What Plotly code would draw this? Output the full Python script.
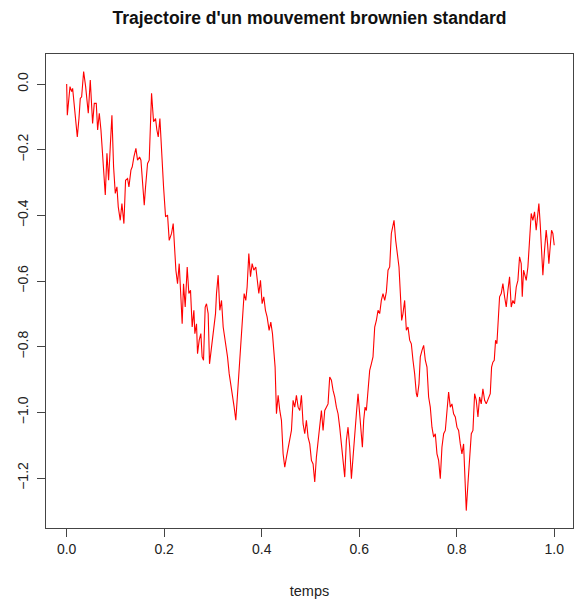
import plotly.graph_objects as go

# Brownian path sampled along [0, 1]
temps = [
    0.0, 0.0013, 0.0068, 0.0102, 0.0122, 0.0184, 0.0218, 0.0252, 0.0279, 0.0307,
    0.0348, 0.0389, 0.0423, 0.0443, 0.0484, 0.0512, 0.0532, 0.0566, 0.0607, 0.0635,
    0.0669, 0.0703, 0.0730, 0.0771, 0.0792, 0.0826, 0.0860, 0.0894, 0.0928, 0.0962,
    0.0997, 0.1031, 0.1058, 0.1099, 0.1133, 0.1174, 0.1208, 0.1249, 0.1277, 0.1318,
    0.1345, 0.1379, 0.1420, 0.1454, 0.1495, 0.1523, 0.1550, 0.1591, 0.1618, 0.1659,
    0.1693, 0.1741, 0.1782, 0.1823, 0.1850, 0.1878, 0.1912, 0.1946, 0.1987, 0.2028,
    0.2069, 0.2103, 0.2151, 0.2185, 0.2219, 0.2240, 0.2274, 0.2308, 0.2342, 0.2369,
    0.2397, 0.2431, 0.2472, 0.2506, 0.2540, 0.2574, 0.2609, 0.2629, 0.2663, 0.2684,
    0.2718, 0.2752, 0.2779, 0.2807, 0.2841, 0.2868, 0.2902, 0.2930, 0.2971, 0.3018,
    0.3053, 0.3073, 0.3107, 0.3141, 0.3176, 0.3210, 0.3264, 0.3299, 0.3333, 0.3367,
    0.3401, 0.3435, 0.3469, 0.3497, 0.3537, 0.3572, 0.3606, 0.3640, 0.3674, 0.3701,
    0.3736, 0.3770, 0.3804, 0.3838, 0.3879, 0.3906, 0.3941, 0.3975, 0.4009, 0.4043,
    0.4077, 0.4111, 0.4152, 0.4187, 0.4221, 0.4248, 0.4275, 0.4303, 0.4337, 0.4371,
    0.4405, 0.4439, 0.4473, 0.4508, 0.4542, 0.4576, 0.4610, 0.4644, 0.4678, 0.4712,
    0.4747, 0.4781, 0.4815, 0.4849, 0.4883, 0.4917, 0.4951, 0.4986, 0.5020, 0.5054,
    0.5088, 0.5122, 0.5156, 0.5191, 0.5225, 0.5259, 0.5293, 0.5327, 0.5361, 0.5395,
    0.5430, 0.5464, 0.5498, 0.5532, 0.5566, 0.5600, 0.5635, 0.5669, 0.5703, 0.5737,
    0.5771, 0.5805, 0.5840, 0.5874, 0.5908, 0.5942, 0.5976, 0.6010, 0.6045, 0.6065,
    0.6092, 0.6120, 0.6147, 0.6181, 0.6215, 0.6249, 0.6283, 0.6318, 0.6352, 0.6386,
    0.6420, 0.6454, 0.6488, 0.6523, 0.6557, 0.6591, 0.6625, 0.6659, 0.6693, 0.6714,
    0.6748, 0.6782, 0.6816, 0.6844, 0.6871, 0.6898, 0.6932, 0.6967, 0.7001, 0.7035,
    0.7069, 0.7103, 0.7137, 0.7172, 0.7192, 0.7226, 0.7253, 0.7288, 0.7322, 0.7356,
    0.7390, 0.7424, 0.7458, 0.7492, 0.7527, 0.7561, 0.7595, 0.7629, 0.7663, 0.7697,
    0.7732, 0.7766, 0.7800, 0.7834, 0.7868, 0.7902, 0.7936, 0.7971, 0.8005, 0.8039,
    0.8073, 0.8107, 0.8141, 0.8169, 0.8196, 0.8230, 0.8264, 0.8299, 0.8333, 0.8367,
    0.8401, 0.8435, 0.8469, 0.8503, 0.8537, 0.8572, 0.8606, 0.8640, 0.8688, 0.8715,
    0.8742, 0.8770, 0.8797, 0.8824, 0.8852, 0.8879, 0.8913, 0.8947, 0.8982, 0.9016,
    0.9050, 0.9084, 0.9118, 0.9152, 0.9186, 0.9221, 0.9255, 0.9289, 0.9323, 0.9344,
    0.9371, 0.9398, 0.9426, 0.9460, 0.9494, 0.9528, 0.9562, 0.9596, 0.9630, 0.9651,
    0.9685, 0.9712, 0.9740, 0.9767, 0.9801, 0.9835, 0.9863, 0.9890, 0.9917, 0.9945,
    0.9972, 1.0,
]

trajectoire = [
    0.0, -0.095, -0.008, -0.023, -0.013, -0.110, -0.161, -0.105, -0.044, -0.039,
    0.038, -0.008, -0.069, -0.089, 0.012, -0.059, -0.120, -0.059, -0.059, -0.140,
    -0.089, -0.140, -0.211, -0.303, -0.338, -0.211, -0.293, -0.191, -0.095, -0.252,
    -0.333, -0.313, -0.374, -0.415, -0.364, -0.425, -0.293, -0.288, -0.313, -0.262,
    -0.252, -0.222, -0.196, -0.232, -0.222, -0.232, -0.293, -0.369, -0.313, -0.242,
    -0.232, -0.028, -0.115, -0.105, -0.140, -0.161, -0.105, -0.211, -0.313, -0.404,
    -0.399, -0.476, -0.455, -0.425, -0.532, -0.567, -0.608, -0.547, -0.648, -0.730,
    -0.608, -0.679, -0.557, -0.638, -0.628, -0.740, -0.689, -0.760, -0.730, -0.821,
    -0.780, -0.760, -0.831, -0.841, -0.679, -0.669, -0.699, -0.852, -0.801, -0.750,
    -0.699, -0.638, -0.582, -0.689, -0.659, -0.740, -0.791, -0.831, -0.882, -0.913,
    -0.943, -0.984, -1.024, -0.963, -0.882, -0.791, -0.699, -0.638, -0.659, -0.618,
    -0.516, -0.587, -0.547, -0.567, -0.557, -0.598, -0.638, -0.598, -0.669, -0.648,
    -0.689, -0.709, -0.750, -0.725, -0.760, -0.811, -0.862, -1.004, -0.948, -0.994,
    -1.024, -1.126, -1.167, -1.136, -1.106, -1.075, -1.055, -0.963, -0.984, -0.948,
    -0.984, -0.994, -0.948, -1.035, -1.065, -1.024, -1.075, -1.096, -1.146, -1.157,
    -1.212, -1.136, -1.085, -1.045, -0.994, -1.055, -0.994, -0.984, -0.974, -0.892,
    -0.902, -0.933, -0.953, -0.984, -1.004, -1.045, -1.096, -1.167, -1.197, -1.085,
    -1.045, -1.106, -1.202, -1.136, -1.055, -1.004, -0.943, -1.004, -1.075, -1.106,
    -1.024, -0.984, -0.994, -0.933, -0.872, -0.852, -0.831, -0.740, -0.720, -0.689,
    -0.699, -0.659, -0.638, -0.659, -0.633, -0.567, -0.557, -0.455, -0.435, -0.415,
    -0.476, -0.526, -0.557, -0.638, -0.720, -0.699, -0.659, -0.750, -0.740, -0.780,
    -0.791, -0.841, -0.882, -0.943, -0.953, -0.913, -0.831, -0.811, -0.796, -0.841,
    -0.862, -0.953, -0.984, -1.045, -1.075, -1.065, -1.126, -1.146, -1.202, -1.106,
    -1.065, -1.055, -1.004, -0.938, -0.984, -0.974, -1.004, -1.014, -1.045, -1.055,
    -1.096, -1.126, -1.096, -1.228, -1.299, -1.217, -1.126, -1.065, -1.055, -0.943,
    -0.963, -1.014, -0.953, -0.974, -0.928, -0.963, -0.974, -0.963, -0.943, -0.862,
    -0.847, -0.841, -0.780, -0.791, -0.699, -0.648, -0.638, -0.608, -0.648, -0.679,
    -0.628, -0.587, -0.679, -0.659, -0.669, -0.618, -0.598, -0.526, -0.547, -0.648,
    -0.567, -0.587, -0.598, -0.557, -0.455, -0.394, -0.415, -0.389, -0.445, -0.404,
    -0.364, -0.425, -0.496, -0.582, -0.506, -0.445, -0.486, -0.547, -0.496, -0.445,
    -0.455, -0.491,
]

x_ticks = [0.0, 0.2, 0.4, 0.6, 0.8, 1.0]
y_ticks = [0.0, -0.2, -0.4, -0.6, -0.8, -1.0, -1.2]

font_family = "Liberation Sans, Arial, Helvetica, sans-serif"
axis_color = "#444444"
text_color = "#222222"

fig = go.Figure(
    go.Scatter(
        x=temps,
        y=trajectoire,
        mode="lines",
        line=dict(color="#ff0000", width=1.1),
        hoverinfo="skip",
    )
)

fig.update_layout(
    width=574,
    height=599,
    margin=dict(l=46, r=1, t=54, b=71),
    paper_bgcolor="white",
    plot_bgcolor="white",
    showlegend=False,
    font=dict(family=font_family, size=14, color=text_color),
    title=dict(
        text="<b>Trajectoire d'un mouvement brownien standard</b>",
        x=0.5,
        xref="paper",
        xanchor="center",
        y=1 - 18 / 599,
        yref="container",
        yanchor="middle",
        font=dict(family=font_family, size=17.5, color="#111111"),
    ),
)

fig.update_xaxes(
    range=[-0.0424, 1.0385],
    tickvals=x_ticks,
    ticktext=[f"{v:.1f}" for v in x_ticks],
    ticks="outside",
    ticklen=8,
    tickwidth=1,
    tickcolor=axis_color,
    showline=True,
    linecolor=axis_color,
    linewidth=1,
    mirror=True,
    showgrid=False,
    zeroline=False,
    tickfont=dict(size=14),
    title=dict(text="temps", standoff=31, font=dict(size=14.5, color=text_color)),
)

fig.update_yaxes(
    range=[-1.352, 0.0915],
    tickvals=y_ticks,
    ticktext=[f"{v:.1f}".replace("-", "\u2212") for v in y_ticks],
    tickangle=-90,
    ticks="outside",
    ticklen=8,
    tickwidth=1,
    tickcolor=axis_color,
    ticklabelstandoff=3,
    showline=True,
    linecolor=axis_color,
    linewidth=1,
    mirror=True,
    showgrid=False,
    zeroline=False,
    tickfont=dict(size=14),
)

fig.write_html("out.html")
